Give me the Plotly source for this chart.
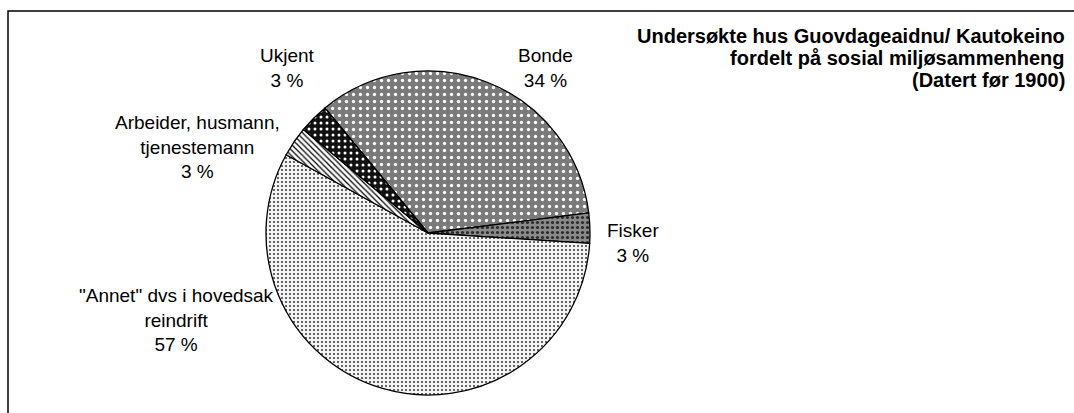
import plotly.graph_objects as go

# slices in drawing order (clockwise, starting with Bonde)
labels = ["Bonde", "Fisker", "\"Annet\" dvs i hovedsak<br>reindrift",
          "Arbeider, husmann,<br>tjenestemann", "Ukjent"]
values = [34, 3, 57, 3, 3]

title_lines = ["Undersøkte hus Guovdageaidnu/ Kautokeino",
               "fordelt på sosial miljøsammenheng",
               "(Datert før 1900)"]

# label anchor positions in the picture (pixels)
label_px = [(545, 68), (633, 243), (176, 320), (197, 147), (287, 68)]

W, H = 1074, 413


def main():
    fig = go.Figure()

    fig.add_trace(go.Pie(
        labels=labels,
        values=values,
        sort=False,
        direction="clockwise",
        rotation=-39.5,
        textinfo="none",
        hoverinfo="label+percent",
        showlegend=False,
        domain=dict(x=[266 / W, 590 / W], y=[1 - 395 / H, 1 - 71 / H]),
        marker=dict(
            colors=["#7a7a7a", "#7a7a7a", "#ffffff", "#ffffff", "#111111"],
            line=dict(color="black", width=1.3),
            pattern=dict(
                shape=[".", ".", ".", "\\", "."],
                fgcolor=["#ffffff", "#2a2a2a", "#333333", "#000000", "#ffffff"],
                bgcolor=["#7a7a7a", "#8a8a8a", "#f4f4f4", "#ffffff", "#111111"],
                size=[7, 5, 4, 4, 6],
                solidity=[0.18, 0.3, 0.2, 0.3, 0.2],
                fillmode="replace",
            ),
        ),
    ))

    for lab, val, (px, py) in zip(labels, values, label_px):
        fig.add_annotation(
            x=px / W, y=1 - py / H, xref="paper", yref="paper",
            text=f"{lab}<br>{val} %", showarrow=False,
            xanchor="center", yanchor="middle", align="center",
            font=dict(family="Liberation Sans, Arial", size=19, color="black"),
        )

    for i, line in enumerate(title_lines):
        fig.add_annotation(
            x=1067 / W, y=1 - (36 + 22 * i) / H, xref="paper", yref="paper",
            text=f"<b>{line}</b>", showarrow=False,
            xanchor="right", yanchor="middle",
            font=dict(family="Liberation Sans, Arial", size=20, color="black"),
        )

    # chart-area frame (right and bottom edges fall outside the picture)
    fig.add_shape(type="rect", xref="paper", yref="paper",
                  x0=8 / W, x1=1.02, y0=-0.02, y1=1 - 11 / H,
                  line=dict(color="black", width=1.5))

    fig.update_layout(
        width=W, height=H,
        margin=dict(l=0, r=0, t=0, b=0),
        paper_bgcolor="white",
        plot_bgcolor="white",
    )

    fig.write_html("out.html", config={"displayModeBar": False},
                   post_script="document.body.style.margin='0';")


if __name__ == "__main__":
    main()
